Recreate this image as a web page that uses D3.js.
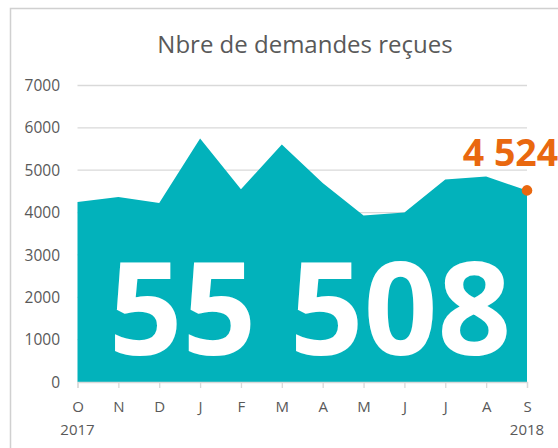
<!DOCTYPE html>
<html>
<head>
<meta charset="utf-8">
<script src="https://cdn.jsdelivr.net/npm/d3@7"></script>
<style>
  html, body { margin: 0; padding: 0; background: #fff; }
  svg { display: block; }
  text { font-family: "Open Sans", sans-serif; }
</style>
</head>
<body>
<svg id="chart" width="558" height="448"></svg>
<script>
const title = "Nbre de demandes reçues";
const months = ["O", "N", "D", "J", "F", "M", "A", "M", "J", "J", "A", "S"];
const monthKeys = ["2017-10", "2017-11", "2017-12", "2018-01", "2018-02", "2018-03", "2018-04", "2018-05", "2018-06", "2018-07", "2018-08", "2018-09"];
const values = [4250, 4370, 4225, 5750, 4550, 5610, 4700, 3930, 4000, 4780, 4850, 4524];
const yearLabels = [{ key: "2017-10", label: "2017" }, { key: "2018-09", label: "2018" }];
const yTicks = [0, 1000, 2000, 3000, 4000, 5000, 6000, 7000];
const totalLabel = "55 508";
const lastLabel = "4 524";

const teal = "#02B2BB";
const orange = "#E9680F";
const textGrey = "#595959";
const gridGrey = "#D9D9D9";

const svg = d3.select("#chart");

// outer frame
svg.append("rect")
  .attr("x", 10.5).attr("y", 8.5)
  .attr("width", 700).attr("height", 700)
  .attr("fill", "none")
  .attr("stroke", "#D0D0D0")
  .attr("stroke-width", 1.5);

const x = d3.scalePoint().domain(monthKeys).range([77.5, 527]);
const y = d3.scaleLinear().domain([0, 7000]).range([382, 85.5]);

// gridlines
svg.append("g")
  .selectAll("line")
  .data(yTicks.filter(t => t > 0))
  .join("line")
  .attr("x1", x.range()[0]).attr("x2", x.range()[1])
  .attr("y1", d => y(d)).attr("y2", d => y(d))
  .attr("stroke", gridGrey)
  .attr("stroke-width", 1.3);

// y labels
svg.append("g")
  .selectAll("text")
  .data(yTicks)
  .join("text")
  .attr("x", 60)
  .attr("y", d => y(d))
  .attr("dy", "0.36em")
  .attr("text-anchor", "end")
  .attr("font-size", 15.5)
  .attr("fill", textGrey)
  .text(d => d);

// area
const data = monthKeys.map((k, i) => ({ k, v: values[i] }));
const area = d3.area()
  .x(d => x(d.k))
  .y0(y(0))
  .y1(d => y(d.v));
svg.append("path")
  .datum(data)
  .attr("d", area)
  .attr("fill", teal);

// x axis
const xAxis = d3.axisBottom(x)
  .tickSize(6)
  .tickFormat((d, i) => months[i]);
const gx = svg.append("g")
  .attr("transform", `translate(0,${y(0)})`)
  .call(xAxis);
gx.select(".domain").attr("stroke", gridGrey).attr("stroke-width", 1.3);
gx.selectAll(".tick line").attr("stroke", gridGrey).attr("stroke-width", 1.3);
gx.selectAll(".tick text")
  .attr("y", 0)
  .attr("dy", 0)
  .attr("transform", "translate(0,30)")
  .attr("font-family", "Open Sans, sans-serif")
  .attr("font-size", 15)
  .attr("fill", textGrey);

// year labels
svg.append("g")
  .selectAll("text")
  .data(yearLabels)
  .join("text")
  .attr("x", d => x(d.key))
  .attr("y", 434.5)
  .attr("text-anchor", "middle")
  .attr("font-size", 15)
  .attr("fill", textGrey)
  .text(d => d.label);

// title
svg.append("text")
  .attr("x", 305)
  .attr("y", 52.5)
  .attr("text-anchor", "middle")
  .attr("font-size", 24)
  .attr("fill", textGrey)
  .text(title);

// big total
svg.append("text")
  .attr("x", 310)
  .attr("y", 355)
  .attr("text-anchor", "middle")
  .attr("font-size", 129)
  .attr("font-weight", "bold")
  .attr("fill", "#FFFFFF")
  .text(totalLabel);

// last point marker
const last = data[data.length - 1];
svg.append("circle")
  .attr("cx", x(last.k))
  .attr("cy", y(last.v))
  .attr("r", 5.3)
  .attr("fill", orange);

svg.append("text")
  .attr("x", 510.5)
  .attr("y", 165.7)
  .attr("text-anchor", "middle")
  .attr("font-size", 37.5)
  .attr("font-weight", "bold")
  .attr("fill", orange)
  .text(lastLabel);
</script>
</body>
</html>
